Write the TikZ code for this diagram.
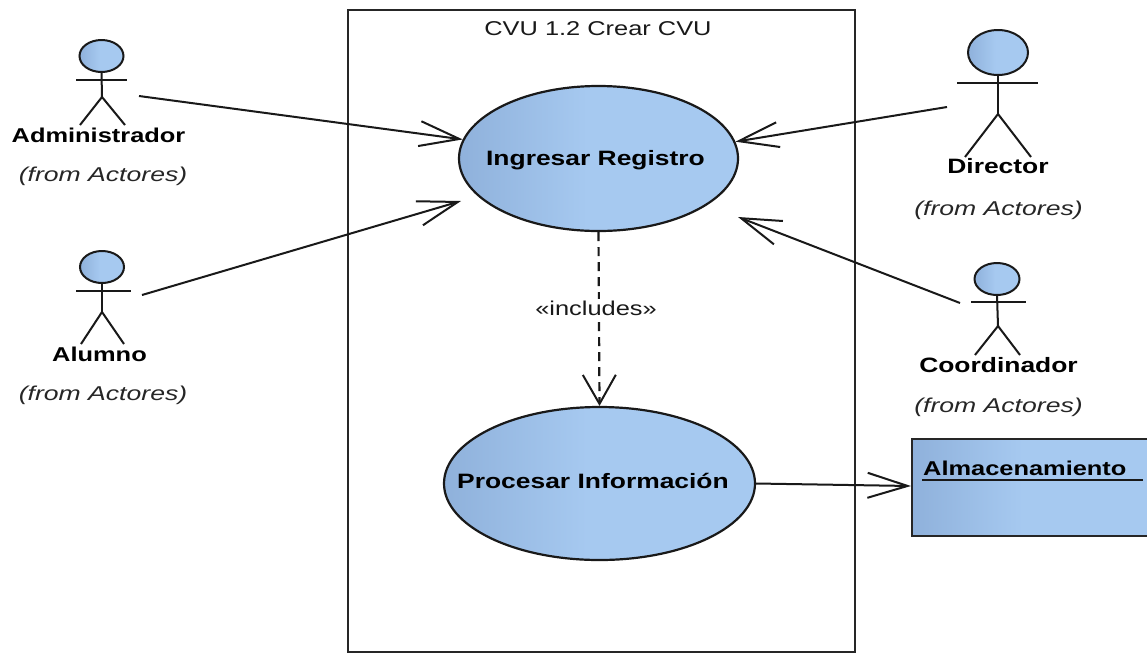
\documentclass[tikz,border=0pt]{standalone}
\usepackage{fontspec}
\setmainfont[FakeStretch=1.27,ItalicFeatures={FakeStretch=1.33}]{Liberation Sans}
\usetikzlibrary{arrows.meta,shapes.geometric}
\definecolor{umldark}{HTML}{8FB1DB}
\definecolor{umllight}{HTML}{A6C9F0}
\pgfdeclarehorizontalshading{umlgrad}{100bp}{color(0bp)=(umldark); color(25bp)=(umldark); color(48bp)=(umllight); color(100bp)=(umllight)}
\tikzset{
  x=1pt,y=-1pt,
  umlline/.style={line width=2pt,draw=black!90},
  usecase/.style={ellipse,draw=black!90,line width=2.2pt,shading=umlgrad,inner sep=0pt},
  head/.style={ellipse,draw=black!90,line width=2pt,shading=umlgrad,inner sep=0pt},
  limb/.style={umlline},
  assoc/.style={umlline,-{Straight Barb[length=40pt,width=25pt,line width=2pt]}},
  incl/.style={umlline,line width=2.2pt,dash pattern=on 9pt off 6pt,-{Straight Barb[length=29pt,width=33pt,line width=2pt]}},
  bold/.style={font=\bfseries\fontsize{20}{22}\selectfont,text=black,inner sep=0pt},
  boldwide/.style={font=\bfseries\fontsize{20.8}{22}\selectfont,text=black,inner sep=0pt},
  from/.style={font=\itshape\fontsize{20}{22}\selectfont,text=black!85,inner sep=0pt},
  plain/.style={font=\fontsize{20}{22}\selectfont,text=black!90,inner sep=0pt},
}
\begin{document}
\begin{tikzpicture}
\useasboundingbox (0,0) rectangle (1147,654);
\clip (0,0) rectangle (1147,654);
\fill[white] (0,0) rectangle (1147,654);

% system boundary
\node[draw=black!85,line width=2pt,minimum width=507pt,minimum height=642pt,inner sep=0pt] (boundary) at (601.5,331) {};
\node[plain] (title) at (598,29) {CVU 1.2 Crear CVU};

% use cases
\node[usecase,minimum width=279pt,minimum height=145pt] (ingresar) at (598.5,158.5) {};
\node[boldwide] (ingresarT) at (595.5,160) {Ingresar Registro};
\node[usecase,minimum width=311pt,minimum height=153pt] (procesar) at (599.5,483.5) {};
\node[boldwide] (procesarT) at (593,481) {Procesar Información};
\coordinate (ingresarSW) at (461,201);
\coordinate (ingresarSE) at (738,217);

% store
\node[draw=black!85,line width=2.2pt,shading=umlgrad,minimum width=240pt,minimum height=97pt,inner sep=0pt] (store) at (1032,487.5) {};
\node[bold,anchor=west] (storeT) at (923,468) {Almacenamiento};
\coordinate (ulA) at (922,480);
\coordinate (ulB) at (1143,480);
\draw[umlline] (ulA) -- (ulB);

% Administrador
\node[head,minimum width=44pt,minimum height=32pt] (h1) at (101.5,56) {};
\coordinate (a1l) at (76,80); \coordinate (a1r) at (127,80);
\coordinate (n1) at (102,97); \coordinate (f1l) at (80,125); \coordinate (f1r) at (125,125);
\draw[limb] (h1.south) -- (n1); \draw[limb] (a1l) -- (a1r);
\draw[limb] (f1l) -- (n1) -- (f1r);
\node[bold] (l1) at (98.5,135) {Administrador};
\node[from] (s1) at (103,176) {(from Actores)};
\coordinate (c1) at (139,96);

% Alumno
\node[head,minimum width=44pt,minimum height=32pt] (h2) at (102,267) {};
\coordinate (a2l) at (76,291); \coordinate (a2r) at (131,291);
\coordinate (n2) at (102,312); \coordinate (f2l) at (81,344); \coordinate (f2r) at (124,344);
\draw[limb] (h2.south) -- (n2); \draw[limb] (a2l) -- (a2r);
\draw[limb] (f2l) -- (n2) -- (f2r);
\node[bold] (l2) at (99.5,354) {Alumno};
\node[from] (s2) at (103,395) {(from Actores)};
\coordinate (c2) at (142,295);

% Director
\node[head,minimum width=60pt,minimum height=45pt] (h3) at (998,52.5) {};
\coordinate (a3l) at (957,83); \coordinate (a3r) at (1038,83);
\coordinate (n3) at (998,114); \coordinate (f3l) at (965,157); \coordinate (f3r) at (1031,157);
\draw[limb] (h3.south) -- (n3); \draw[limb] (a3l) -- (a3r);
\draw[limb] (f3l) -- (n3) -- (f3r);
\node[boldwide] (l3) at (998,166) {Director};
\node[from] (s3) at (998.5,210) {(from Actores)};
\coordinate (c3) at (947,107);

% Coordinador
\node[head,minimum width=45pt,minimum height=32pt] (h4) at (997,279) {};
\coordinate (a4l) at (971,302); \coordinate (a4r) at (1026,302);
\coordinate (n4) at (998,326); \coordinate (f4l) at (975,355); \coordinate (f4r) at (1020,355);
\draw[limb] (h4.south) -- (n4); \draw[limb] (a4l) -- (a4r);
\draw[limb] (f4l) -- (n4) -- (f4r);
\node[boldwide] (l4) at (998.5,365) {Coordinador};
\node[from] (s4) at (998.5,407) {(from Actores)};
\coordinate (c4) at (960,303);

% connectors
\draw[assoc] (c1) -- (ingresar.172.3);
\draw[assoc] (c2) -- (ingresarSW);
\draw[assoc] (c3) -- (ingresar.7.5);
\draw[assoc] (c4) -- (ingresarSE);
\draw[incl] (ingresar.south) -- (procesar.north);
\node[plain,fill=white,inner xsep=3pt,inner ysep=2pt] (inc) at (596,308) {«includes»};
\draw[assoc] (procesar.east) -- ([yshift=1.5pt]store.west);
\end{tikzpicture}
\end{document}
